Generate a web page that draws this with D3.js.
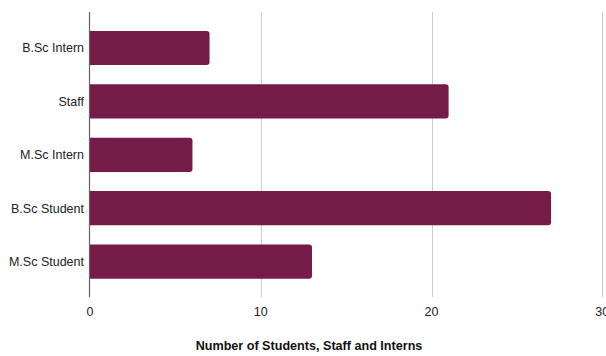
<!DOCTYPE html>
<html>
<head>
<meta charset="utf-8">
<script src="https://cdn.jsdelivr.net/npm/d3@7"></script>
<style>
  body { margin: 0; background: #fff; }
  svg { display: block; font-family: "Liberation Sans", Arial, sans-serif; }
</style>
</head>
<body>
<div id="chart"></div>
<script>
const categories = ["B.Sc Intern", "Staff", "M.Sc Intern", "B.Sc Student", "M.Sc Student"];
const counts = [7, 21, 6, 27, 13];
const xTicks = [0, 10, 20, 30];
const axisTitle = "Number of Students, Staff and Interns";

const width = 606, height = 356;
const plotLeft = 90, plotRight = 602.3, plotTop = 12, plotBottom = 297;

const svg = d3.select("#chart").append("svg")
    .attr("width", width)
    .attr("height", height);

const x = d3.scaleLinear().domain([0, 30]).range([plotLeft, plotRight]);
const y = d3.scaleBand().domain(categories)
    .range([21.3, 288.3])
    .paddingInner(0.36)
    .paddingOuter(0.18);

// gridlines
svg.append("g").selectAll("line")
    .data(xTicks.filter(d => d !== 0))
    .join("line")
    .attr("x1", d => Math.round(x(d)) + 0.5)
    .attr("x2", d => Math.round(x(d)) + 0.5)
    .attr("y1", plotTop)
    .attr("y2", plotBottom)
    .attr("stroke", "#cccccc")
    .attr("stroke-width", 1);

// bars, rounded on the right end only
const r = 3;
svg.append("g").selectAll("path")
    .data(categories)
    .join("path")
    .attr("fill", "#741b47")
    .attr("d", (d, i) => {
        const x0 = x(0), x1 = x(counts[i]);
        const y0 = y(d), h = y.bandwidth();
        return `M${x0},${y0}H${x1 - r}Q${x1},${y0} ${x1},${y0 + r}V${y0 + h - r}Q${x1},${y0 + h} ${x1 - r},${y0 + h}H${x0}Z`;
    });

// zero axis line
svg.append("line")
    .attr("x1", x(0) - 0.5).attr("x2", x(0) - 0.5)
    .attr("y1", plotTop).attr("y2", plotBottom)
    .attr("stroke", "#666")
    .attr("stroke-width", 1.2);

// category labels
svg.append("g").selectAll("text")
    .data(categories)
    .join("text")
    .attr("x", 84)
    .attr("y", d => y(d) + y.bandwidth() / 2)
    .attr("dy", "0.35em")
    .attr("text-anchor", "end")
    .attr("font-size", 12.5)
    .attr("fill", "#222")
    .text(d => d);

// x tick labels
svg.append("g").selectAll("text")
    .data(xTicks)
    .join("text")
    .attr("x", d => x(d))
    .attr("y", 312)
    .attr("dy", "0.35em")
    .attr("text-anchor", "middle")
    .attr("font-size", 12.5)
    .attr("fill", "#222")
    .text(d => d);

// axis title
svg.append("text")
    .attr("x", 309)
    .attr("y", 346)
    .attr("dy", "0.35em")
    .attr("text-anchor", "middle")
    .attr("font-size", 12.6)
    .attr("font-weight", "bold")
    .attr("fill", "#111")
    .text(axisTitle);
</script>
</body>
</html>
